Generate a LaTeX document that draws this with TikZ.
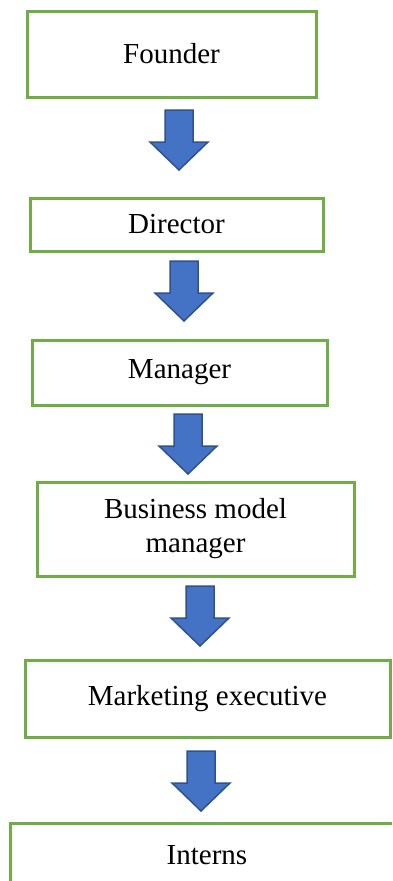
\documentclass[tikz,border=0pt]{standalone}
\usepackage{fontspec}
\setmainfont{Liberation Serif}
\usepackage{tikz}

\definecolor{boxgreen}{HTML}{70AD47}
\definecolor{arrowfill}{HTML}{4472C4}
\definecolor{arrowline}{HTML}{2F528F}

\tikzset{
  level/.style={draw=boxgreen, line width=3pt, fill=white, inner sep=0pt,
    align=center, font=\fontsize{29}{34}\selectfont},
  flow/.style={fill=arrowfill, draw=arrowline, line width=1.5pt, line join=miter}
}

\begin{document}
\begin{tikzpicture}[x=1pt,y=-1pt]
\clip (0,0) rectangle (392,881);
% chain of positions, top to bottom
\node[level, minimum width=289, minimum height=86] (founder) at (171.5,54) {Founder};
\node[level, minimum width=293, minimum height=53] (director) at (176.5,224.5) {Director};
\node[level, minimum width=295, minimum height=65] (manager) at (179.5,372.5) {Manager};
\node[level, minimum width=317, minimum height=94] (bmm) at (195.5,529) {Business model\\manager};
\node[level, minimum width=365, minimum height=77] (marketing) at (207.5,698.5) {Marketing executive};
\node[level, minimum width=394, minimum height=64] (interns) at (207,855) {Interns};
% block arrows between the levels
\foreach \x/\y in {179/110, 184/261, 188/414, 200/586, 201/751}
  \draw[flow, shift={(\x,\y)}] (-14,0) -- (14,0) -- (14,32) -- (29,32) -- (0,60)
    -- (-29,32) -- (-14,32) -- cycle;
\end{tikzpicture}
\end{document}
